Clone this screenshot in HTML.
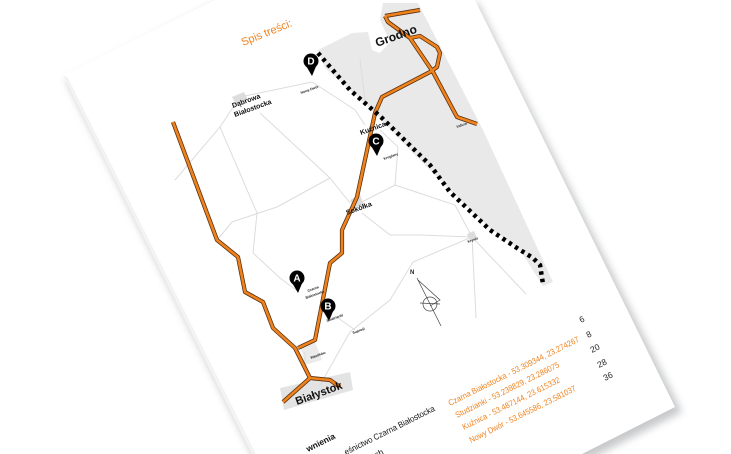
<!DOCTYPE html>
<html><head><meta charset="utf-8"><style>
html,body{margin:0;padding:0;background:#fff;}
svg{display:block;}
text{font-family:"Liberation Sans",sans-serif;}
</style></head><body>
<svg width="731" height="454" viewBox="0 0 731 454" xmlns="http://www.w3.org/2000/svg">
<defs>
<filter id="sh" x="-10%" y="-10%" width="130%" height="130%"><feGaussianBlur stdDeviation="4"/></filter>
</defs>
<polygon points="66,80 217,3 478,3 682,412 588,460 255,460" fill="#9a9ca0" opacity="0.55" filter="url(#sh)"/>
<polygon points="63,75 215,0 475,0 675,407 582,454 252,454" fill="#fff"/>
<polygon points="63,75 68,78 256,454 252,454" fill="#f3f3f3"/>

<polygon points="318,50 352,33 368,32 372,50 380,53 390,42 380,20 383,3 418,3 483,130 553,282 543,286 520,250 490,228 450,190 410,150 380,118 350,90 325,68" fill="#e9e9e9"/>
<polygon points="280,388 350,372 353,390 284,410" fill="#e3e3e3"/>
<polygon points="300,346 315,342 322,360 305,365" fill="#ebebeb"/>
<polygon points="232,97 244,92 248,100 236,104" fill="#ddd"/>
<polygon points="350,200 360,195 364,205 354,208" fill="#ddd"/>
<polygon points="467,234 474,231 477,238 470,241" fill="#ddd"/>

<g stroke="#dcdcdc" stroke-width="1" fill="none">
<polyline points="175,180 220,127 240,97 312,82"/>
<polyline points="220,127 257,213 253,253"/>
<polyline points="260,113 330,178 350,203"/>
<polyline points="330,178 277,207 232,222 217,240"/>
<polyline points="312,82 340,100 355,110 365,125"/>
<polyline points="398,147 395,185 360,203"/>
<polyline points="395,185 455,205 472,237"/>
<polyline points="362,213 390,235 420,235 472,237"/>
<polyline points="472,237 413,262 390,300 350,332 320,385"/>
<polyline points="472,237 476,318"/>
<polyline points="472,237 526,294"/>
<polyline points="380,130 398,147"/>
<polyline points="253,253 280,278 296,290"/>
<polyline points="338,318 355,330"/>
<polyline points="305,352 305,370"/>
<polyline points="360,60 365,100"/>
</g>

<g fill="none" stroke-linejoin="round" stroke-linecap="butt">
<g stroke="#5a3210" stroke-width="4.2">
<polyline points="385,16 420,10"/>
<polyline points="385,16 388,22 410,38 433,72 457,117 477,124"/>
<polyline points="410,38 420,36 437,47 440,53 437,67 430,72 382,97 375,113 357,197 342,230 342,253 330,263 315,340 298,348"/>
<polyline points="173,122 217,240 238,257 245,292 263,302 273,328 295,348 310,378 283,402"/>
<polyline points="310,378 330,380 340,387"/>
</g>
<g stroke="#f0821e" stroke-width="2.6">
<polyline points="385,16 420,10"/>
<polyline points="385,16 388,22 410,38 433,72 457,117 477,124"/>
<polyline points="410,38 420,36 437,47 440,53 437,67 430,72 382,97 375,113 357,197 342,230 342,253 330,263 315,340 298,348"/>
<polyline points="173,122 217,240 238,257 245,292 263,302 273,328 295,348 310,378 283,402"/>
<polyline points="310,378 330,380 340,387"/>
</g>
</g>

<polyline points="318,53 350,90 382,118 430,165 450,192 490,230 517,248 533,258 540,265 543,284" fill="none" stroke="#000" stroke-width="4.5" stroke-dasharray="3.5,4"/>

<g font-weight="bold" font-size="10" fill="#fff" text-anchor="middle">
<g transform="translate(311,61)"><circle r="7.5" fill="#000"/><polygon points="-6,3 6,3 1,15" fill="#000"/><text x="0" y="3.5">D</text></g>
<g transform="translate(376,141)"><circle r="7.5" fill="#000"/><polygon points="-6,3 6,3 1,15" fill="#000"/><text x="0" y="3.5">C</text></g>
<g transform="translate(297,278)"><circle r="7.5" fill="#000"/><polygon points="-6,3 6,3 1,15" fill="#000"/><text x="0" y="3.5">A</text></g>
<g transform="translate(328,306)"><circle r="7.5" fill="#000"/><polygon points="-6,3 6,3 1,15" fill="#000"/><text x="0" y="3.5">B</text></g>
</g>

<g font-weight="bold" fill="#111">
<text x="377" y="47" font-size="12" transform="rotate(-20 377 47)">Grodno</text>
<text x="233" y="108" font-size="7" transform="rotate(-20 233 108)">Dąbrowa</text>
<text x="235" y="117" font-size="7" transform="rotate(-20 235 117)">Białostocka</text>
<text x="361" y="135" font-size="7" transform="rotate(-20 361 135)">Kuźnica</text>
<text x="347" y="215" font-size="7" transform="rotate(-20 347 215)">Sokółka</text>
<text x="297" y="405" font-size="11" transform="rotate(-20 297 405)">Białystok</text>
</g>
<g font-size="3.5" fill="#222" font-weight="bold">
<text x="301" y="94" transform="rotate(-20 301 94)">Nowy Dwór</text>
<text x="384" y="160" transform="rotate(-20 384 160)">Kruglany</text>
<text x="457" y="128" transform="rotate(-20 457 128)">Indura</text>
<text x="468" y="243" transform="rotate(-20 468 243)">Krynki</text>
<text x="308" y="292" transform="rotate(-20 308 292)">Czarna</text>
<text x="306" y="299" transform="rotate(-20 306 299)">Białostocka</text>
<text x="327" y="322" transform="rotate(-20 327 322)">Studzianki</text>
<text x="353" y="334" transform="rotate(-20 353 334)">Supraśl</text>
<text x="311" y="359" transform="rotate(-20 311 359)">Wasilków</text>
</g>

<g stroke="#444" stroke-width="0.7" fill="none">
<line x1="417" y1="278" x2="441" y2="326"/>
<circle cx="430" cy="304" r="7"/>
<polyline points="418,280 440,300 430,306"/>
<line x1="420" y1="303" x2="440" y2="304"/>
</g>
<text x="410" y="274" font-size="6" font-weight="bold" fill="#222">N</text>

<text x="243" y="46" font-size="11" fill="#f0821e" transform="rotate(-22 243 46)">Spis treści:</text>
<g font-size="8.3" fill="#f0821e" lengthAdjust="spacingAndGlyphs">
<text x="450" y="406" textLength="145" lengthAdjust="spacingAndGlyphs" transform="rotate(-26.5 450 406)">Czarna Białostocka - 53.309344, 23.274267</text>
<text x="457" y="418" textLength="115" lengthAdjust="spacingAndGlyphs" transform="rotate(-26.5 457 418)">Studzianki - 53.238829, 23.286075</text>
<text x="464" y="430" textLength="108" lengthAdjust="spacingAndGlyphs" transform="rotate(-26.5 464 430)">Kuźnica - 53.487144, 23.615332</text>
<text x="471" y="443" textLength="118" lengthAdjust="spacingAndGlyphs" transform="rotate(-26.5 471 443)">Nowy Dwór - 53.645586, 23.581037</text>
</g>
<g font-size="8.5" fill="#222">
<text x="581" y="323" transform="rotate(-26.5 581 323)">6</text>
<text x="588" y="338" transform="rotate(-26.5 588 338)">8</text>
<text x="592" y="353" transform="rotate(-26.5 592 353)">20</text>
<text x="599" y="368" transform="rotate(-26.5 599 368)">28</text>
<text x="605" y="381" transform="rotate(-26.5 605 381)">36</text>
</g>
<g font-size="8.5" fill="#111">
<text x="308" y="452" font-weight="bold" transform="rotate(-26.5 308 452)">wnienia</text>
<text x="346" y="455" textLength="100" lengthAdjust="spacingAndGlyphs" transform="rotate(-26.5 346 455)">eśnictwo Czarna Białostocka</text>
<text x="372" y="460" transform="rotate(-26.5 372 460)">ach</text>
</g>
</svg>
</body></html>
